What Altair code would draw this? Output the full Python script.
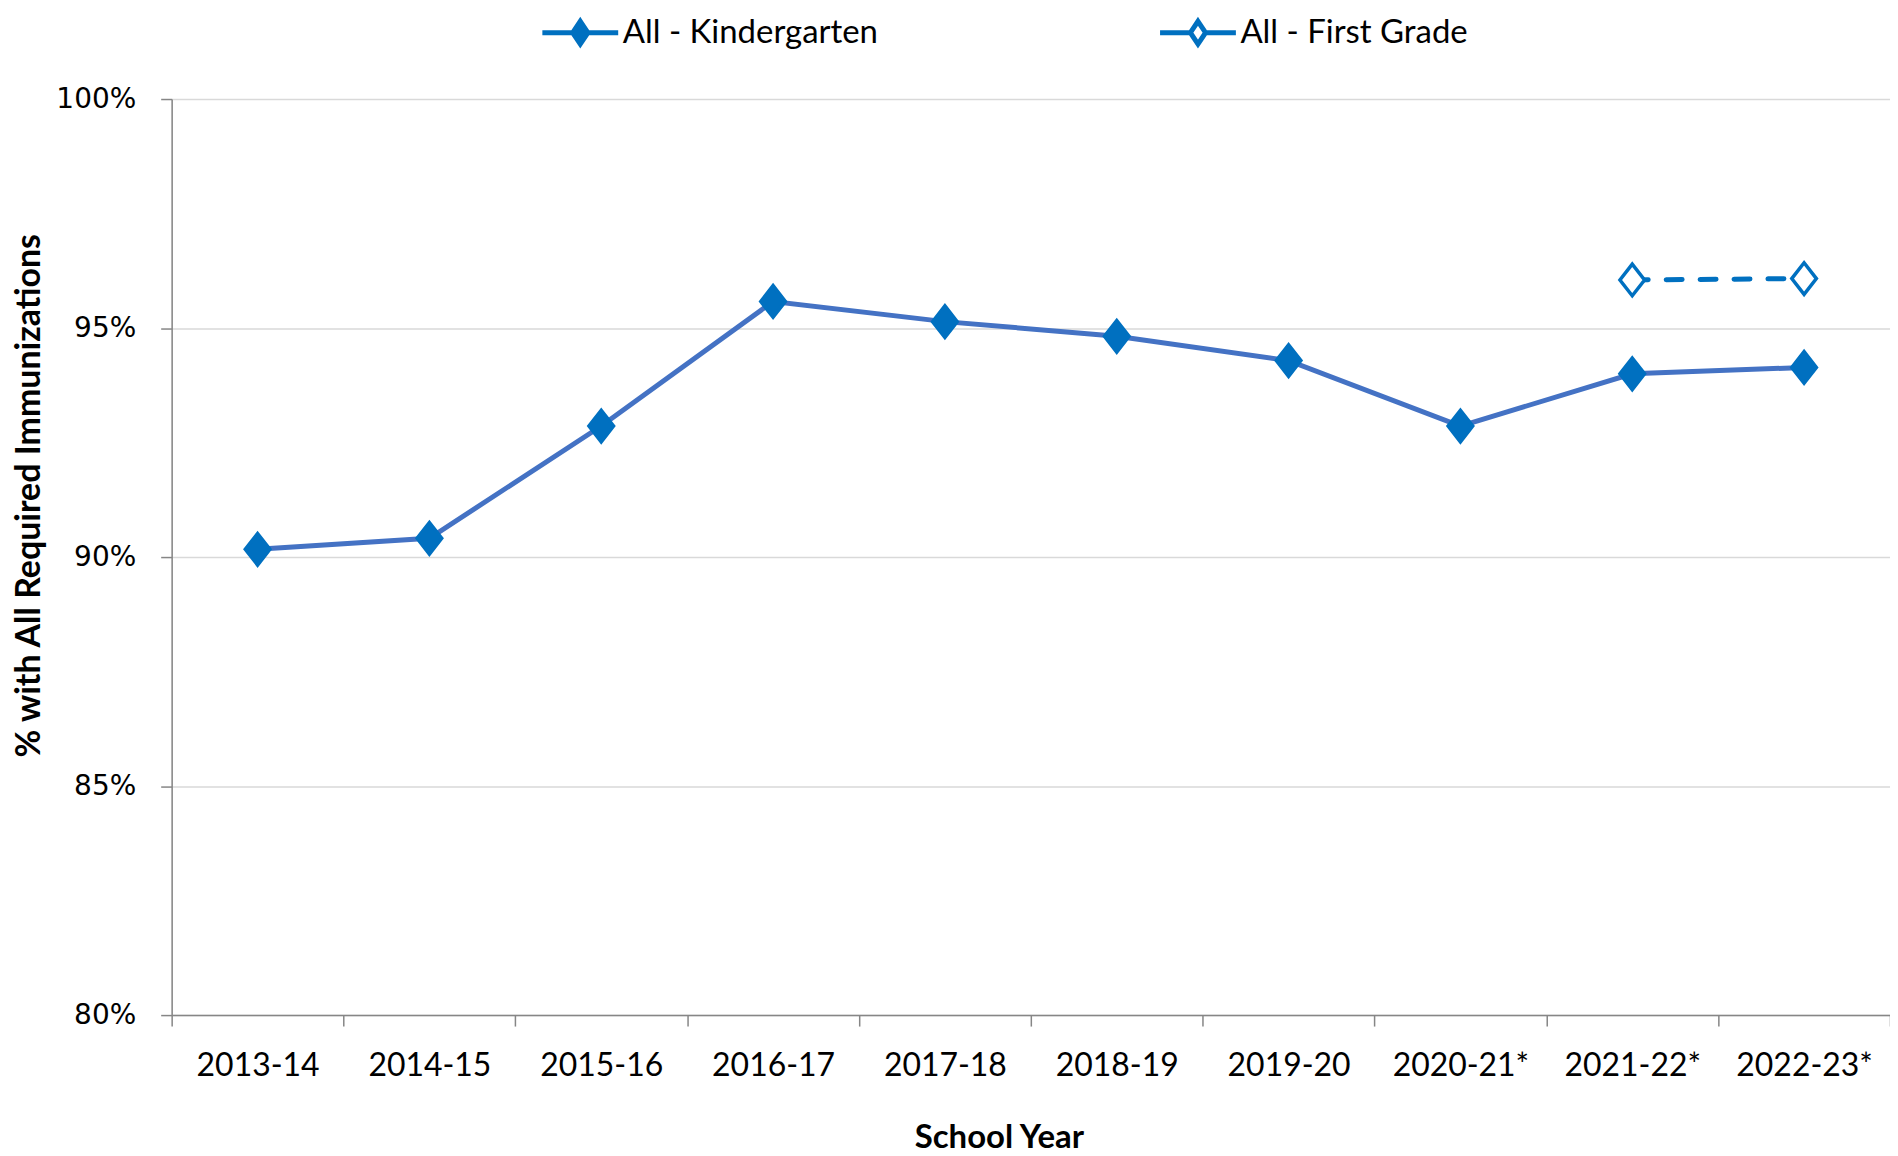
import altair as alt
import pandas as pd

years = ["2013-14", "2014-15", "2015-16", "2016-17", "2017-18", "2018-19",
         "2019-20", "2020-21*", "2021-22*", "2022-23*"]
kindergarten = [90.17, 90.41, 92.86, 95.58, 95.14, 94.82, 94.29, 92.86, 94.00, 94.14]
first_grade = [None, None, None, None, None, None, None, None, 96.05, 96.08]
series_names = ["All - Kindergarten", "All - First Grade"]
y_ticks = [80, 85, 90, 95, 100]

rows = []
for y, v in zip(years, kindergarten):
    rows.append({"year": y, "value": v, "series": series_names[0]})
for y, v in zip(years, first_grade):
    if v is not None:
        rows.append({"year": y, "value": v, "series": series_names[1]})
df = pd.DataFrame(rows)

FONT = "Lato"
DIAMOND = "M0,-1L0.78,0L0,1L-0.78,0Z"
LEGEND_SYM = "M-1,0L-0.2,0M0.2,0L1,0M0,-0.3L0.2,0L0,0.3L-0.2,0Z"

x_enc = alt.X(
    "year:N",
    sort=years,
    bandPosition=0.5,
    scale=alt.Scale(type="band", paddingInner=0, paddingOuter=0),
    axis=alt.Axis(
        title="School Year",
        titleFont=FONT, titleFontSize=33, titleFontWeight="bold", titleColor="#000000",
        titleX=829, titleY=123, titleBaseline="middle", titleAlign="center", titleAnchor="start",
        labelFont=FONT, labelFontSize=32, labelColor="#000000", labelAngle=0,
        labelPadding=25, tickBand="extent", tickSize=11, tickColor="#868686", tickWidth=1.5,
        domainColor="#868686", domainWidth=1.5, grid=False,
    ),
)
y_enc = alt.Y(
    "value:Q",
    scale=alt.Scale(domain=[80, 100], nice=False, zero=False),
    axis=alt.Axis(
        title="% with All Required  Immunizations",
        titleFont=FONT, titleFontSize=34, titleFontWeight="bold", titleColor="#000000",
        titleX=-142, titleY=397, titleAngle=270, titleBaseline="middle", titleAlign="center",
        titleAnchor="start",
        values=y_ticks, labelExpr="datum.value + '%'",
        labelFont="DejaVu Sans", labelFontSize=28, labelColor="#000000", labelPadding=25,
        tickSize=11, tickColor="#868686", tickWidth=1.5,
        domainColor="#868686", domainWidth=1.5,
        grid=True, gridColor="#D9D9D9", gridWidth=1.5,
    ),
)

base = alt.Chart(df)

line_k = base.transform_filter(alt.datum.series == series_names[0]).mark_line(
    strokeWidth=5, strokeCap="round", color="#4472C4"
).encode(x=x_enc, y=y_enc)

line_f = base.transform_filter(alt.datum.series == series_names[1]).mark_line(
    strokeWidth=5, strokeCap="round", color="#0070C0", strokeDash=[16, 18]
).encode(x=x_enc, y=y_enc)

points = base.mark_point(
    filled=True, shape=DIAMOND, size=1000, stroke="#0070C0", strokeWidth=3.5, opacity=1
).encode(
    x=x_enc,
    y=y_enc,
    fill=alt.Fill(
        "series:N",
        sort=series_names,
        scale=alt.Scale(domain=series_names, range=["#0070C0", "#FFFFFF"]),
        legend=alt.Legend(
            title=None, orient="none", direction="horizontal",
            legendX=369, legendY=-107, padding=0,
            symbolType=LEGEND_SYM, symbolSize=5776, symbolStrokeColor="#0070C0",
            symbolStrokeWidth=5, symbolOpacity=1,
            labelFont=FONT, labelFontSize=33, labelColor="#000000", labelOffset=2,
            columnPadding=272, labelLimit=600,
        ),
    ),
)

chart = (
    alt.layer(line_k, line_f, points)
    .properties(
        width=1722, height=918,
        autosize=alt.AutoSizeParams(type="none"),
        padding={"left": 164, "top": 90, "right": 0, "bottom": 142},
    )
    .configure_view(stroke=None)
    .configure(background="white")
)

chart.save("out.html", embed_options={"renderer": "svg", "actions": False})
